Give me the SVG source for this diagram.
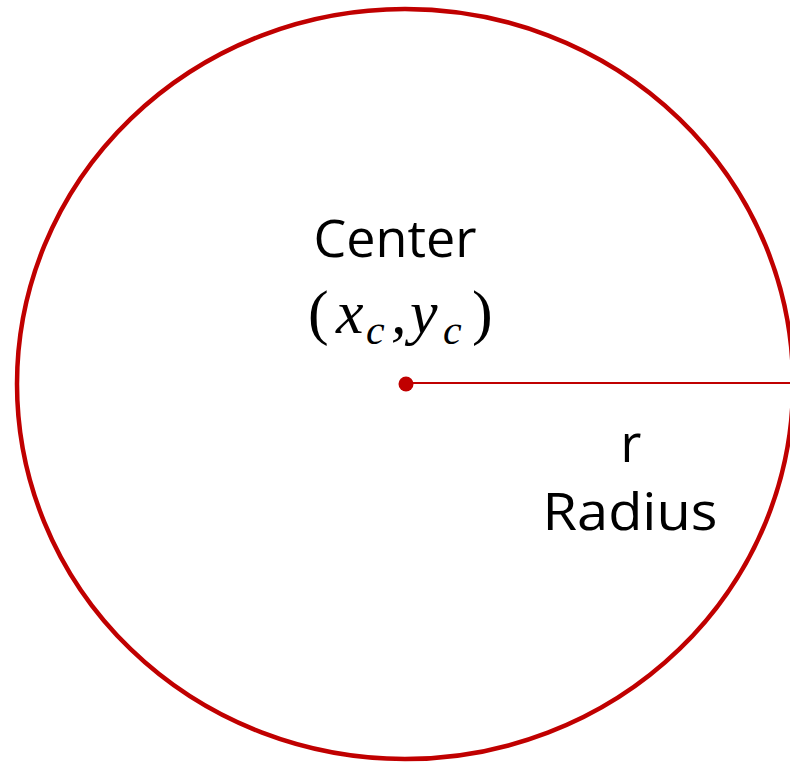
<svg xmlns="http://www.w3.org/2000/svg" width="790" height="763" viewBox="0 0 790 763">
<style>
.lbl{font-family:"Open Sans","Noto Sans",sans-serif;font-size:51px;fill:#000}
.math{font-family:"Liberation Serif",serif;font-style:italic;font-size:62px;fill:#000}
.sub{font-size:42px}
.up{font-style:normal}
</style>
<rect width="790" height="763" fill="#fff"/>
<g id="circle">
<ellipse cx="405" cy="384" rx="388" ry="375" fill="none" stroke="#C00000" stroke-width="4.5"/>
</g>
<g id="connectors">
<line x1="405" y1="383" x2="792" y2="383" stroke="#C00000" stroke-width="2"/>
</g>
<g id="center">
<circle cx="406" cy="384" r="7.5" fill="#C00000"/>
<text class="lbl" x="395" y="257" text-anchor="middle" textLength="163" lengthAdjust="spacingAndGlyphs">Center</text>
<text class="math" y="333"><tspan class="up" x="308">(</tspan><tspan x="336">x</tspan><tspan class="sub" x="366" y="344">c</tspan><tspan x="391" y="333">,</tspan><tspan x="410">y</tspan><tspan class="sub" x="443" y="344">c</tspan><tspan class="up" x="472" y="333">)</tspan></text>
</g>
<g id="radius">
<text class="lbl" x="631" y="462" text-anchor="middle">r</text>
<text class="lbl" x="630" y="530" text-anchor="middle" textLength="175" lengthAdjust="spacingAndGlyphs">Radius</text>
</g>
</svg>
